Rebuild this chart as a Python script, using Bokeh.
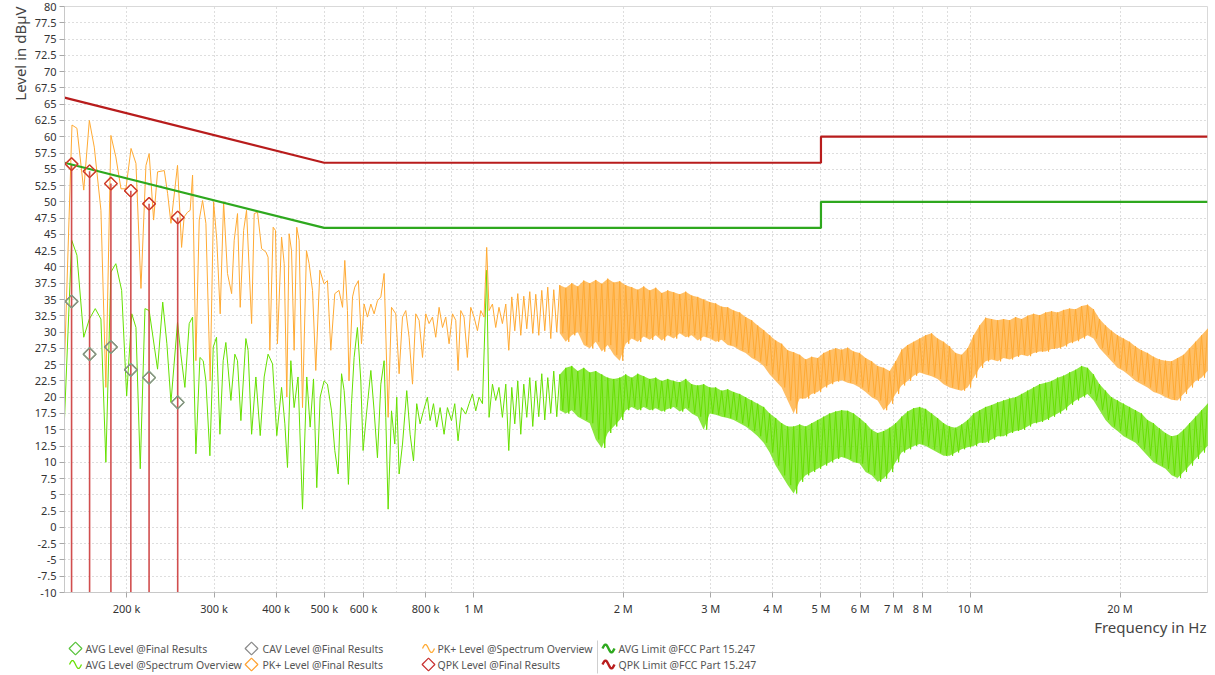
import numpy as np
from bokeh.plotting import figure
from bokeh.layouts import column
from bokeh.models import FixedTicker, CustomJSTickFormatter, Range1d, Title
from bokeh.core.properties import value
from bokeh.embed import file_html
from bokeh.resources import INLINE

FONT = "Noto Sans"

# ---------------- data ----------------
# limit lines (FCC Part 15.247, conducted)
LIMIT_F_HZ = [150e3, 500e3, 5e6, 5e6, 30e6]
QPK_LIMIT = [66, 56, 56, 60, 60]
AVG_LIMIT = [56, 46, 46, 50, 50]

# final measurement results
FINAL_F_KHZ = [155.0, 168.5, 186.0, 204.0, 222.0, 253.5]
QPK_FINAL = [55.8, 54.7, 52.8, 51.7, 49.7, 47.6]
PK_FINAL = [55.8, 54.7, 52.8, 51.7, 49.7, 47.6]
CAV_FINAL = [34.7, 26.6, 27.7, 24.2, 23.0, 19.2]
AVG_FINAL = [34.7, 26.6, 27.7, 24.2, 23.0, 19.2]

# spectrum overview, low band (individual vertices)
PK_LF_F_KHZ = [150.0, 155.3, 158.9, 164.0, 168.3, 172.2, 177.6, 181.7, 186.0, 190.3,
               194.9, 199.4, 204.2, 208.9, 213.8, 218.8, 222.1, 226.7, 230.9, 238.2,
               241.9, 245.7, 253.3, 258.1, 261.2, 265.3, 268.6, 271.6, 275.8, 280.1,
               284.5, 288.9, 294.7, 299.4, 303.9, 308.7, 313.6, 319.3, 325.5, 329.4,
               334.5, 338.7, 344.1, 348.8, 357.1, 361.4, 367.0, 374.0, 381.5, 385.4,
               388.6, 394.6, 398.9, 402.5, 410.3, 415.3, 420.4, 424.9, 429.7, 434.9,
               440.2, 445.1, 452.1, 460.5, 466.2, 473.6, 480.8, 490.0, 499.7, 507.5,
               515.5, 525.1, 535.4, 544.3, 550.0, 556.8, 560.8, 570.1, 576.1, 585.8,
               594.3, 601.5, 610.8, 620.6, 630.1, 639.9, 650.0, 660.0, 672.4, 683.0,
               696.6, 707.5, 718.7, 729.7, 741.0, 752.8, 764.2, 776.1, 788.5, 800.5,
               812.9, 825.9, 838.4, 851.5, 865.1, 878.2, 891.9, 906.1, 919.9, 929.8,
               941.5, 955.9, 970.8, 986.2, 1001.4, 1017.3, 1033.0, 1048.8, 1061.8, 1073.5,
               1090.5, 1107.1, 1124.0, 1142.0]
PK_LF = [25.2, 61.8, 61.3, 51.8, 62.5, 58.4, 48.7, 21.5, 60.2, 56.9,
         52.0, 52.0, 58.2, 55.9, 36.7, 55.6, 57.4, 47.2, 54.6, 54.8,
         51.3, 46.7, 55.6, 43.0, 47.7, 48.4, 48.7, 54.1, 25.6, 47.2,
         50.2, 46.7, 22.5, 50.0, 44.1, 32.8, 50.0, 39.0, 35.9, 44.1,
         48.2, 33.8, 45.6, 48.7, 31.3, 48.2, 48.4, 42.8, 42.3, 41.5,
         27.2, 46.1, 45.6, 28.2, 44.6, 40.5, 20.0, 45.1, 42.5, 27.2,
         46.1, 44.1, 18.4, 42.5, 40.5, 36.4, 24.1, 39.5, 37.4, 37.9,
         27.2, 35.9, 36.4, 33.8, 41.0, 33.3, 22.5, 35.4, 36.9, 37.9,
         28.2, 34.3, 32.3, 34.3, 32.8, 34.8, 35.4, 39.0, 16.9, 33.8,
         32.8, 23.6, 32.3, 33.3, 29.2, 22.0, 32.8, 31.8, 26.1, 32.8,
         31.3, 32.3, 29.2, 33.8, 30.7, 32.3, 28.2, 32.8, 31.8, 24.1,
         33.3, 32.3, 26.1, 33.8, 32.3, 30.2, 33.3, 32.3, 43.0, 33.3,
         34.3, 30.7, 33.8, 31.3]

AVG_LF_F_KHZ = [150.0, 155.1, 158.9, 164.0, 168.3, 173.0, 177.6, 181.7, 186.0, 190.3,
                195.5, 200.1, 204.9, 208.9, 213.1, 217.8, 222.1, 230.9, 236.5, 241.1,
                245.7, 253.3, 257.3, 262.1, 267.4, 271.6, 275.8, 281.0, 285.3, 288.9,
                294.3, 298.9, 303.5, 308.3, 313.0, 316.9, 324.4, 330.4, 334.5, 339.8,
                347.7, 351.3, 357.1, 364.2, 371.6, 378.5, 385.4, 393.5, 401.3, 410.3,
                416.6, 421.7, 428.3, 434.9, 442.8, 452.1, 461.1, 468.4, 475.8, 483.0,
                490.6, 499.7, 507.5, 517.2, 525.1, 533.3, 541.8, 548.3, 554.3, 559.3,
                567.4, 574.3, 583.2, 592.4, 598.7, 608.1, 620.6, 630.1, 639.9, 650.0,
                660.0, 665.1, 672.4, 683.0, 693.4, 699.8, 707.5, 718.7, 733.0, 744.5,
                756.3, 767.7, 779.8, 792.1, 806.6, 816.7, 829.7, 842.2, 855.5, 871.5,
                885.0, 901.9, 915.7, 929.8, 944.6, 963.4, 978.5, 994.0, 1009.3, 1024.8,
                1041.2, 1061.8, 1073.5, 1090.5, 1107.1, 1124.0, 1142.0]
AVG_LF = [16.7, 44.1, 41.8, 29.2, 32.0, 33.6, 32.0, 10.0, 39.2, 40.5,
          36.4, 20.2, 32.8, 30.7, 9.0, 33.6, 33.3, 24.3, 34.6, 28.2,
          19.2, 31.5, 26.5, 21.5, 31.3, 32.3, 11.3, 26.1, 25.6, 22.5,
          11.0, 27.7, 29.2, 14.3, 25.6, 28.4, 19.5, 26.6, 25.6, 16.4,
          29.0, 27.2, 14.3, 23.1, 14.1, 23.1, 26.6, 25.1, 14.1, 21.5,
          15.9, 9.2, 25.6, 18.4, 23.1, 2.8, 23.1, 15.4, 22.8, 6.1,
          20.0, 22.5, 22.0, 17.9, 11.8, 8.2, 23.6, 21.0, 15.4, 6.6,
          19.0, 26.1, 30.7, 22.5, 11.8, 17.4, 24.1, 17.9, 10.7, 22.0,
          25.6, 16.9, 2.8, 17.9, 12.8, 20.0, 8.2, 12.8, 21.0, 14.3,
          10.2, 19.0, 15.9, 17.9, 20.0, 16.4, 19.0, 15.4, 18.4, 14.3,
          18.4, 16.4, 19.0, 13.3, 18.4, 17.4, 19.0, 20.5, 17.9, 20.0,
          19.0, 39.5, 16.9, 22.0, 19.5, 21.5, 16.9]

# spectrum overview, dense band: max / min per display bin on the sweep grid
SWEEP_START_HZ = 1.16e6
SWEEP_STOP_HZ = 30e6
PK_HI = [34.3, 35.4, 35.9, 35.5, 36.2, 35.8, 36.4, 36.9, 36.5, 37.2,
         36.8, 37.5, 37.0, 37.9, 37.5, 38.0, 37.4, 38.2, 37.6, 37.8,
         37.2, 36.9, 36.5, 37.0, 36.4, 36.8, 36.0, 36.4, 36.1, 35.8,
         36.2, 35.6, 35.4, 35.0, 34.6, 34.4, 33.9, 33.8, 33.3, 33.0,
         32.3, 31.8, 31.0, 30.3, 29.5, 28.7, 28.2, 27.2, 26.9, 26.5,
         25.8, 26.2, 26.0, 26.8, 27.2, 27.5, 27.3, 27.6, 27.0, 26.8,
         26.0, 25.5, 24.8, 24.5, 24.0, 25.5, 27.3, 28.0, 28.5, 29.0,
         29.5, 29.8, 29.0, 28.5, 27.8, 26.8, 26.5, 27.5, 29.5, 31.0,
         32.2, 32.0, 31.8, 32.0, 31.8, 32.3, 32.0, 32.5, 32.8, 32.6,
         33.0, 33.2, 33.0, 33.4, 33.6, 33.5, 34.0, 34.2, 33.5, 32.0,
         31.0, 30.2, 29.5, 29.0, 28.5, 27.8, 27.2, 26.8, 26.2, 25.8,
         25.6, 25.5, 26.0, 26.5, 27.5, 28.5, 29.5, 30.5]
PK_LO = [27.2, 30.2, 29.5, 30.5, 29.8, 29.5, 30.2, 29.0, 30.0, 29.8,
         28.5, 29.5, 30.0, 28.0, 27.5, 28.5, 27.0, 28.0, 26.5, 25.6,
         28.2, 29.0, 28.5, 29.3, 28.8, 29.5, 28.7, 29.5, 29.0, 29.8,
         29.2, 29.5, 28.7, 29.3, 29.0, 28.5, 28.8, 28.0, 27.8, 27.2,
         26.8, 26.0, 25.5, 24.8, 23.5, 22.5, 21.5, 19.5, 17.5, 19.8,
         19.8, 20.5, 20.8, 21.5, 22.0, 22.4, 22.6, 22.2, 22.0, 21.5,
         20.8, 20.0, 19.5, 18.0, 19.0, 20.5, 21.8, 22.5, 23.3, 23.8,
         23.5, 23.2, 22.8, 22.0, 21.5, 21.2, 21.0, 21.5, 23.0, 24.5,
         25.5, 25.8, 25.5, 26.0, 25.8, 26.2, 26.5, 26.3, 26.8, 27.0,
         27.0, 27.4, 27.5, 27.8, 28.3, 28.6, 29.0, 29.5, 29.0, 27.5,
         26.5, 25.5, 24.5, 24.0, 23.3, 22.5, 22.0, 21.5, 20.8, 20.5,
         20.0, 19.6, 19.5, 20.5, 21.5, 22.5, 23.0, 24.0]
AVG_HI = [22.0, 21.5, 22.5, 22.0, 23.0, 22.5, 23.6, 23.0, 24.0, 23.5,
          24.5, 24.8, 24.0, 24.5, 23.8, 24.0, 23.5, 23.0, 22.8, 23.0,
          23.5, 23.0, 23.6, 23.2, 22.8, 23.0, 22.5, 22.8, 22.5, 22.3,
          22.8, 22.0, 21.8, 22.0, 21.5, 21.5, 21.0, 21.2, 20.8, 20.5,
          20.0, 19.5, 19.0, 18.5, 17.5, 16.8, 16.0, 15.5, 15.5, 15.8,
          15.5, 16.0, 16.5, 17.0, 17.5, 17.8, 18.0, 17.9, 17.5, 16.8,
          16.0, 15.0, 14.5, 14.8, 15.3, 16.0, 17.0, 17.8, 18.3, 18.5,
          18.2, 17.5, 16.8, 16.0, 15.5, 15.3, 15.8, 16.5, 17.5, 18.0,
          18.5, 18.8, 19.2, 19.5, 19.8, 20.0, 20.5, 21.0, 21.5, 22.0,
          22.2, 22.5, 23.0, 23.3, 23.8, 24.2, 24.8, 24.5, 23.5, 22.0,
          21.0, 20.0, 19.5, 19.0, 18.5, 18.0, 17.5, 16.5, 16.0, 15.2,
          14.5, 14.0, 14.2, 15.0, 16.0, 17.0, 18.0, 19.0]
AVG_LO = [11.8, 15.9, 14.3, 16.9, 15.5, 17.0, 16.5, 17.5, 17.0, 18.0,
          17.5, 18.0, 17.0, 16.5, 16.0, 13.5, 12.2, 14.5, 15.5, 16.5,
          18.0, 18.5, 18.0, 18.5, 18.0, 18.3, 17.8, 18.2, 18.5, 17.8,
          18.3, 17.5, 17.0, 15.0, 17.5, 17.3, 17.0, 16.8, 16.5, 16.0,
          15.5, 14.8, 14.0, 13.0, 11.5, 9.5, 8.0, 6.5, 5.2, 7.0,
          8.0, 8.5, 9.0, 9.5, 10.0, 10.5, 10.8, 10.5, 10.0, 9.8,
          8.5, 8.0, 7.0, 7.5, 8.5, 10.0, 11.5, 12.0, 12.5, 12.8,
          12.5, 12.0, 11.5, 11.0, 11.0, 11.5, 12.0, 12.3, 12.5, 13.0,
          13.0, 13.5, 14.0, 14.0, 14.5, 14.8, 15.0, 15.5, 16.0, 16.2,
          16.5, 17.0, 17.5, 18.0, 18.8, 19.5, 20.0, 20.5, 19.5, 18.0,
          16.5, 15.5, 14.8, 14.0, 13.5, 13.0, 12.0, 11.0, 10.0, 9.5,
          9.0, 8.0, 7.6, 8.5, 9.5, 10.5, 11.5, 12.5]
FILL_FROM_HZ = 1.45e6

# axes
X_TICKS = [200e3, 300e3, 400e3, 500e3, 600e3, 800e3, 1e6, 2e6, 3e6, 4e6,
           5e6, 6e6, 7e6, 8e6, 10e6, 20e6]
GRID_F = [200e3, 300e3, 400e3, 500e3, 600e3, 700e3, 800e3, 900e3,
          1e6, 2e6, 3e6, 4e6, 5e6, 6e6, 7e6, 8e6, 9e6, 10e6, 20e6]
Y_TICKS = [-10, -7.5, -5, -2.5, 0, 2.5, 5, 7.5, 10, 12.5, 15, 17.5, 20, 22.5, 25,
           27.5, 30, 32.5, 35, 37.5, 40, 42.5, 45, 47.5, 50, 52.5, 55, 57.5, 60,
           62.5, 65, 67.5, 70, 72.5, 75, 77.5, 80]
X_TITLE = "Frequency in Hz"
Y_TITLE = "Level in dBµV"

LEGEND_ITEMS = [
    ("diamond", "#5cc440", "AVG Level @Final Results"),
    ("wave", "#66e000", "AVG Level @Spectrum Overview"),
    ("diamond", "#8c8c8c", "CAV Level @Final Results"),
    ("diamond", "#ffa233", "PK+ Level @Final Results"),
    ("wave", "#ffaa33", "PK+ Level @Spectrum Overview"),
    ("diamond", "#c83232", "QPK Level @Final Results"),
    ("thickwave", "#2ea81e", "AVG Limit @FCC Part 15.247"),
    ("thickwave", "#b81c1c", "QPK Limit @FCC Part 15.247"),
]

# ---------------- colours ----------------
ORANGE = "#ffaa33"
GREEN = "#66e000"
RED_LIM = "#b81c1c"
GREEN_LIM = "#2ea81e"
STEM = "#cc3b3b"

# ---------------- build traces ----------------
band_f = np.geomspace(SWEEP_START_HZ, SWEEP_STOP_HZ, len(PK_HI))


def trace(lf_f_khz, lf_vals, hi, lo):
    """low band vertices, then the dense band drawn as max/min zig-zag"""
    xs = [f * 1e3 for f in lf_f_khz]
    ys = list(lf_vals)
    n = len(hi)
    for k in range(n):
        xs.append(band_f[k])
        ys.append(hi[k])
        xs.append(np.sqrt(band_f[k] * band_f[k + 1]) if k + 1 < n else band_f[k])
        ys.append(lo[k])
    return xs, ys


pk_x, pk_y = trace(PK_LF_F_KHZ, PK_LF, PK_HI, PK_LO)
avg_x, avg_y = trace(AVG_LF_F_KHZ, AVG_LF, AVG_HI, AVG_LO)
mask = band_f >= FILL_FROM_HZ
final_f = [f * 1e3 for f in FINAL_F_KHZ]

# ---------------- main figure ----------------
MAIN_H = 618
p = figure(width=1215, height=MAIN_H, x_axis_type="log",
           x_range=Range1d(150e3, 30e6), y_range=Range1d(-10, 80),
           output_backend="svg", toolbar_location=None)
p.min_border_left = 64
p.min_border_right = 8
p.min_border_top = 6
p.min_border_bottom = 26
p.outline_line_color = "#d9d9d9"
p.background_fill_color = "white"
p.border_fill_color = "white"

p.xaxis.ticker = FixedTicker(ticks=X_TICKS, minor_ticks=[])
p.yaxis.ticker = FixedTicker(ticks=Y_TICKS, minor_ticks=[])
p.xaxis.formatter = CustomJSTickFormatter(code="""
    if (tick >= 1e6) { return Math.round(tick / 1e6) + " M"; }
    return Math.round(tick / 1e3) + " k";
""")
p.yaxis.formatter = CustomJSTickFormatter(code="""
    return String(Math.round(tick * 10) / 10);
""")
for ax in (p.xaxis[0], p.yaxis[0]):
    ax.axis_line_color = "#c8c8c8"
    ax.major_tick_line_color = "#a8a8a8"
    ax.major_tick_in = 0
    ax.major_tick_out = 5
    ax.minor_tick_line_color = None
    ax.major_label_text_font = FONT
    ax.major_label_text_font_size = "11px"
    ax.major_label_text_color = "#333333"
    ax.major_label_standoff = 3

p.xgrid.ticker = FixedTicker(ticks=GRID_F, minor_ticks=[])
p.ygrid.ticker = FixedTicker(ticks=Y_TICKS, minor_ticks=[])
p.grid.grid_line_color = "#bdbdbd"
p.grid.grid_line_dash = "1 3"
p.grid.grid_line_width = 1

# spectrum traces
p.varea(x=band_f[mask], y1=np.array(AVG_LO)[mask], y2=np.array(AVG_HI)[mask],
        fill_color=GREEN, fill_alpha=0.75)
p.line(avg_x, avg_y, line_color=GREEN, line_width=1.0)
p.varea(x=band_f[mask], y1=np.array(PK_LO)[mask], y2=np.array(PK_HI)[mask],
        fill_color=ORANGE, fill_alpha=0.75)
p.line(pk_x, pk_y, line_color=ORANGE, line_width=1.0)

# final-result stems
p.segment(x0=final_f, y0=QPK_FINAL, x1=final_f, y1=[-10] * len(final_f),
          line_color=STEM, line_width=1.6, line_alpha=0.9)

# limits
p.line(LIMIT_F_HZ, AVG_LIMIT, line_color=GREEN_LIM, line_width=2.2)
p.line(LIMIT_F_HZ, QPK_LIMIT, line_color=RED_LIM, line_width=2.2)

# final-result markers (hollow diamonds)
for vals, col in ((AVG_FINAL, "#5cc440"), (CAV_FINAL, "#8c8c8c"),
                  (PK_FINAL, "#ffa233"), (QPK_FINAL, "#c83232")):
    p.scatter(final_f, vals, marker="square", angle=np.pi / 4, size=9,
              fill_alpha=0, line_color=col, line_width=1.3)

# y axis title (top aligned, like the reference)
p.add_layout(Title(text=Y_TITLE, align="right", text_font=FONT,
                   text_font_size="15px", text_font_style="normal",
                   text_color="#444444", standoff=4), "left")

# ---------------- legend / x-title figure ----------------
LG_H = 675 - MAIN_H
lg = figure(width=1215, height=LG_H, x_range=Range1d(64, 1207), y_range=Range1d(LG_H, 0),
            output_backend="svg", toolbar_location=None,
            x_axis_location=None, y_axis_location=None)
lg.min_border = 0
lg.min_border_left = 64
lg.min_border_right = 8
lg.min_border_top = 0
lg.min_border_bottom = 0
lg.outline_line_color = None
lg.xgrid.visible = False
lg.ygrid.visible = False

lg.text(x=[1206], y=[8], text=[X_TITLE], text_font=value(FONT), text_font_size="15px",
        text_color="#444444", text_align="right", text_baseline="middle")

COL_ICON_X = [75, 251, 428, 608]
COL_TEXT_X = [85, 262, 437, 618]
ROW_Y = [30, 46]
SEPARATOR_X = 597
t = np.linspace(0, 1, 15)
for i, (kind, col, lab) in enumerate(LEGEND_ITEMS):
    c, r = divmod(i, 2)
    ix, iy = COL_ICON_X[c], ROW_Y[r]
    if kind == "diamond":
        lg.scatter([ix], [iy], marker="square", angle=np.pi / 4, size=9,
                   fill_alpha=0, line_color=col, line_width=1.3)
    else:
        lw = 2.4 if kind == "thickwave" else 1.3
        lg.line(ix - 6 + 12 * t, iy - 4 * np.sin(2 * np.pi * t), line_color=col, line_width=lw)
    lg.text(x=[COL_TEXT_X[c]], y=[iy], text=[lab], text_font=value(FONT),
            text_font_size="10.5px", text_color="#555555", text_baseline="middle")
lg.segment(x0=[SEPARATOR_X], y0=[22], x1=[SEPARATOR_X], y1=[LG_H - 2],
           line_color="#cfcfcf", line_width=1)

layout = column(p, lg, spacing=0)
open("out.html", "w").write(file_html(layout, INLINE))
